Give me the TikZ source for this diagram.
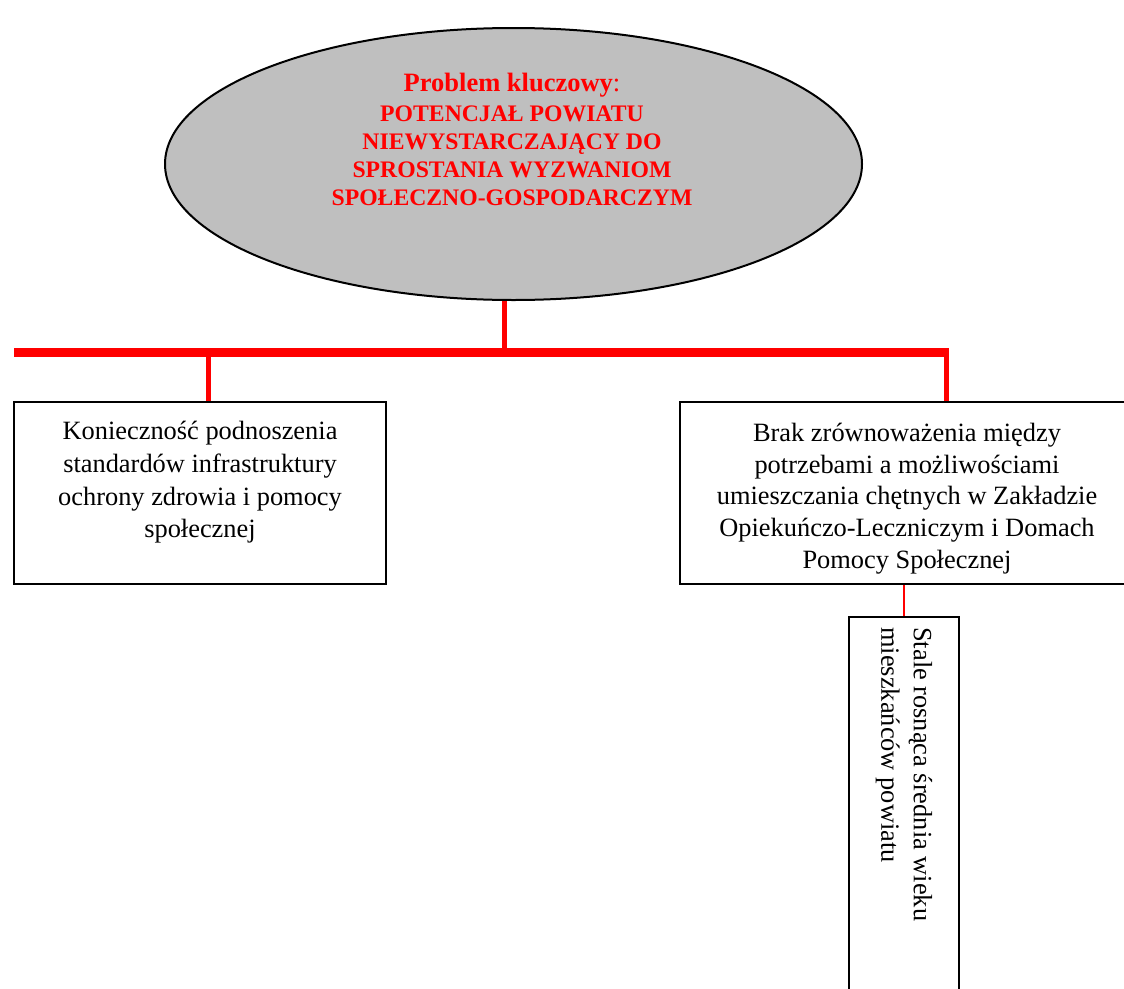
\documentclass[tikz,border=0pt]{standalone}
\usepackage{fontspec}
\setmainfont{Liberation Serif}
\usetikzlibrary{shapes.geometric,positioning}

\begin{document}
\begin{tikzpicture}[
        x=1pt, y=-1pt,
        font=\fontsize{26.4}{32.7}\selectfont,
        keyshape/.style={ellipse, draw=black, line width=2pt, fill=gray!50,
            minimum width=697pt, minimum height=272pt, inner sep=0pt},
        keytitle/.style={align=center, inner sep=0pt, text=red,
            font=\bfseries\fontsize{23.7}{28}\selectfont},
        causebox/.style={draw=black, line width=1.8pt, fill=white, inner sep=0pt,
            minimum height=182pt},
        boxtext/.style={align=center, inner sep=0pt},
        bus/.style={red, line width=9pt},
        stem/.style={red, line width=5pt},
        thinlink/.style={red, line width=1.5pt}
    ]

    \useasboundingbox (0,0) rectangle (1124,988);

    % --- 1. Problem kluczowy ---
    \node[keyshape] (key) at (513.5,164) {};
    \node[keytitle] (keytext) at (512,139)
        {{\fontsize{26.5}{32}\selectfont Problem kluczowy\textmd{:}}\\[2pt]
         POTENCJAŁ POWIATU\\
         NIEWYSTARCZAJĄCY DO\\
         SPROSTANIA WYZWANIOM\\
         SPOŁECZNO-GOSPODARCZYM};

    % --- 2. Przyczyny ---
    \node[causebox, minimum width=372pt] (cause1) at (200,493) {};
    \node[boxtext, below=20pt of cause1.north] (cause1text)
        {Konieczność podnoszenia\\
         standardów infrastruktury\\
         ochrony zdrowia i pomocy\\
         społecznej};

    \node[causebox, minimum width=454pt] (cause2) at (907,493) {};
    \node[boxtext, below=22pt of cause2.north,
          font=\fontsize{26.4}{31.6}\selectfont] (cause2text)
        {Brak zrównoważenia między\\
         potrzebami a możliwościami\\
         umieszczania chętnych w Zakładzie\\
         Opiekuńczo-Leczniczym i Domach\\
         Pomocy Społecznej};

    % --- 3. Podprzyczyna (pionowo) ---
    \node[causebox, minimum width=110pt, minimum height=386pt] (trend) at (904,810) {};
    \node[boxtext, align=left, rotate=-90, anchor=west] (trendtext)
        at ([yshift=-11pt]trend.north)
        {Stale rosnąca średnia wieku\\
         mieszkańców powiatu};

    % Connectors
    \coordinate (hub) at (504,352);
    \coordinate (hubL) at (208,352);
    \coordinate (hubR) at (946,352);
    \coordinate (barL) at (14,352);

    \draw[stem] (hub) -- (hub |- key.south);
    \draw[stem] (hubL) -- (hubL |- cause1.north);
    \draw[stem] (hubR) -- (hubR |- cause2.north);
    \draw[bus] (barL) -- ([xshift=2.5pt]hubR);
    \draw[thinlink] (trend.north) -- (trend.north |- cause2.south);

\end{tikzpicture}
\end{document}
